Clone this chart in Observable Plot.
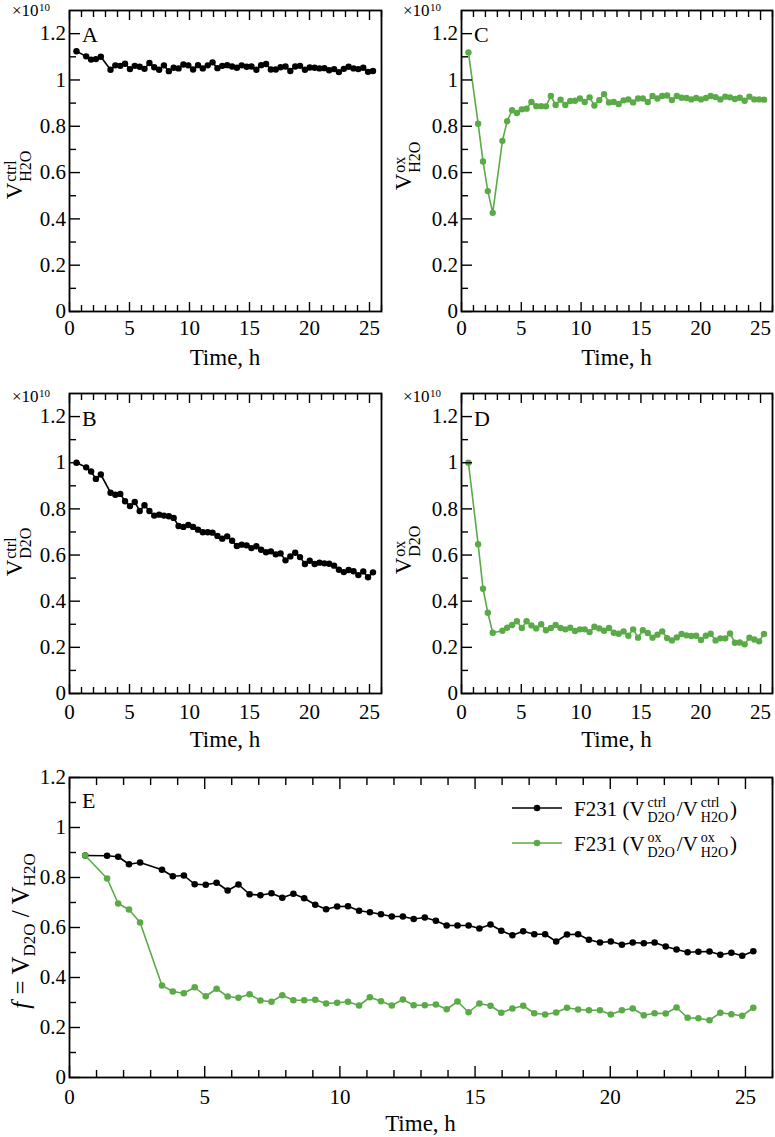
<!DOCTYPE html>
<html><head><meta charset="utf-8">
<script src="https://cdn.jsdelivr.net/npm/d3@7"></script>
<script src="https://cdn.jsdelivr.net/npm/@observablehq/plot@0.6"></script>
<style>
html,body{margin:0;padding:0;background:#fff;}
#root{position:relative;width:775px;height:1137px;overflow:hidden;background:#fff;}
#root svg{position:absolute;overflow:visible;font-family:"Liberation Serif","DejaVu Serif",serif !important;}
#root svg text{font-family:"Liberation Serif","DejaVu Serif",serif !important;}
</style></head><body><div id="root"></div>
<script>
// ---- data ----
const time = [0.58,1.39,1.80,2.20,2.61,3.42,3.82,4.23,4.63,5.04,5.44,5.85,6.25,6.66,7.06,7.47,7.87,8.28,8.68,9.09,
  9.49,9.90,10.30,10.71,11.11,11.52,11.92,12.33,12.73,13.14,13.55,13.95,14.35,14.76,15.16,15.57,15.97,16.38,16.78,17.19,
  17.59,18.00,18.40,18.81,19.21,19.62,20.02,20.43,20.83,21.24,21.64,22.05,22.45,22.86,23.26,23.67,24.07,24.48,24.88,25.29];

// panel A: V_H2O ctrl (x1e10)
const vH2Octrl = [1.124,1.102,1.088,1.090,1.100,1.044,1.063,1.061,1.070,1.047,
  1.061,1.057,1.048,1.073,1.055,1.044,1.063,1.038,1.053,1.050,
  1.067,1.063,1.045,1.064,1.050,1.063,1.076,1.051,1.061,1.064,
  1.058,1.053,1.063,1.057,1.058,1.044,1.064,1.069,1.045,1.045,
  1.055,1.058,1.039,1.058,1.061,1.044,1.054,1.053,1.050,1.051,
  1.042,1.047,1.034,1.048,1.057,1.050,1.047,1.053,1.035,1.039];
// panel B: V_D2O ctrl
const vD2Octrl = [1.000,0.980,0.962,0.930,0.949,0.870,0.861,0.865,0.833,0.812,
  0.830,0.791,0.816,0.791,0.771,0.775,0.771,0.768,0.761,0.726,
  0.722,0.730,0.722,0.710,0.699,0.699,0.697,0.683,0.671,0.681,
  0.662,0.639,0.645,0.642,0.630,0.638,0.623,0.612,0.616,0.603,
  0.607,0.577,0.594,0.610,0.591,0.561,0.575,0.561,0.567,0.564,
  0.562,0.554,0.536,0.526,0.535,0.530,0.513,0.529,0.504,0.525];
// panel C: V_H2O ox
const vH2Oox = [1.119,0.811,0.648,0.520,0.426,0.737,0.822,0.869,0.857,0.873,
  0.876,0.905,0.887,0.887,0.886,0.931,0.892,0.915,0.892,0.909,
  0.910,0.920,0.905,0.925,0.890,0.913,0.939,0.903,0.905,0.896,
  0.912,0.916,0.903,0.920,0.920,0.905,0.931,0.920,0.931,0.933,
  0.913,0.931,0.923,0.922,0.916,0.922,0.916,0.922,0.931,0.926,
  0.916,0.928,0.925,0.918,0.923,0.910,0.928,0.916,0.916,0.915];
// panel D: V_D2O ox
const vD2Oox = [1.000,0.647,0.454,0.350,0.263,0.272,0.285,0.297,0.313,0.284,
  0.313,0.295,0.282,0.300,0.274,0.284,0.297,0.284,0.278,0.285,
  0.271,0.278,0.278,0.266,0.289,0.282,0.272,0.284,0.263,0.259,
  0.269,0.250,0.278,0.242,0.274,0.262,0.242,0.255,0.269,0.240,
  0.230,0.243,0.258,0.252,0.249,0.250,0.232,0.250,0.259,0.230,
  0.239,0.239,0.260,0.220,0.221,0.213,0.242,0.234,0.226,0.258];
// panel E: f ratios
const fCtrl = [0.888,0.887,0.883,0.853,0.860,0.831,0.805,0.808,0.773,0.771,
  0.779,0.748,0.772,0.733,0.729,0.737,0.719,0.735,0.717,0.691,
  0.673,0.684,0.685,0.667,0.661,0.653,0.644,0.644,0.634,0.640,
  0.627,0.608,0.608,0.608,0.596,0.612,0.587,0.569,0.585,0.573,
  0.573,0.544,0.572,0.573,0.551,0.540,0.544,0.531,0.540,0.537,
  0.540,0.524,0.512,0.501,0.503,0.504,0.491,0.499,0.487,0.505];
const fOx = [0.888,0.796,0.696,0.672,0.620,0.368,0.344,0.337,0.361,0.325,
  0.355,0.324,0.319,0.333,0.308,0.303,0.329,0.309,0.309,0.311,
  0.296,0.299,0.303,0.288,0.321,0.305,0.288,0.312,0.289,0.289,
  0.292,0.273,0.304,0.261,0.296,0.287,0.259,0.276,0.287,0.257,
  0.252,0.260,0.279,0.272,0.269,0.269,0.252,0.269,0.276,0.249,
  0.257,0.256,0.280,0.239,0.237,0.229,0.259,0.253,0.247,0.279];

// ---- ticks ----
const xMajor = [0,5,10,15,20,25];
const xTickLabels = ["0","5","10","15","20","25"];
const yMajor = [0,0.2,0.4,0.6,0.8,1,1.2];
const yTickLabels = ["0","0.2","0.4","0.6","0.8","1","1.2"];
const yMinor = [0.1,0.3,0.5,0.7,0.9,1.1];
const xMinor = d3.range(1,27).filter(d => d % 5 !== 0);

const FONT = "Liberation Serif, DejaVu Serif, serif";
const BLACK = "#000000", GREEN = "#5aab47";

function series(vals){ return time.map((t,i) => ({t, v: vals[i]})); }

// tx: [major length, minor length, label gap]; ty: [major, minor]
function axes(tx, ty) {
  return [
    Plot.axisX(xMinor, {anchor: "bottom", tickSize: -tx[1], strokeWidth: 1.4, fill: "none", label: null}),
    Plot.axisX(xMinor, {anchor: "top", tickSize: -tx[1], strokeWidth: 1.4, fill: "none", label: null}),
    Plot.axisX(xMajor, {anchor: "top", tickSize: -tx[0], strokeWidth: 1.4, fill: "none", label: null}),
    Plot.axisX(xMajor, {anchor: "bottom", tickSize: -tx[0], strokeWidth: 1.4, tickPadding: tx[2] + tx[0],
      tickFormat: d => xTickLabels[xMajor.indexOf(d)], label: null}),
    Plot.axisY(yMinor, {anchor: "left", tickSize: -ty[1], strokeWidth: 1.4, fill: "none", label: null}),
    Plot.axisY(yMajor, {anchor: "left", tickSize: -ty[0], strokeWidth: 1.4, tickPadding: 3.5 + ty[0],
      tickFormat: d => yTickLabels[yMajor.indexOf(d)], label: null}),
    Plot.frame({stroke: "#000", strokeWidth: 1.8})
  ];
}

const plotStyle = {fontFamily: FONT, fontSize: "21px", color: "#000", background: "transparent", overflow: "visible"};

function panel({vals, color, yMax, width, height, ml, mr, mt, mb, gap}) {
  const data = series(vals);
  return Plot.plot({
    width, height, marginLeft: ml, marginRight: mr, marginTop: mt, marginBottom: mb,
    x: {domain: [0, 26]},
    y: {domain: [0, yMax]},
    style: plotStyle,
    marks: [
      Plot.line(data, {x: "t", y: "v", stroke: color, strokeWidth: 1.6}),
      Plot.dot(data, {x: "t", y: "v", fill: color, r: 3.2}),
      ...axes([9, 6, gap], [11, 7])
    ]
  });
}

const root = document.getElementById("root");
function place(svg, left, top) {
  svg.style.left = left + "px"; svg.style.top = top + "px";
  svg.style.fontFamily = FONT;
  root.appendChild(svg);
  return d3.select(svg);
}

const sA = place(panel({vals: vH2Octrl, color: BLACK, yMax: 1.3, width: 388, height: 370, ml: 69, mr: 7, mt: 10, mb: 59, gap: 9}), 0, 0);
const sC = place(panel({vals: vH2Oox, color: GREEN, yMax: 1.3, width: 387, height: 370, ml: 73, mr: 3, mt: 10, mb: 59, gap: 9}), 388, 0);
const sB = place(panel({vals: vD2Octrl, color: BLACK, yMax: 1.3, width: 388, height: 370, ml: 69, mr: 7, mt: 10, mb: 60, gap: 11}), 0, 383);
const sD = place(panel({vals: vD2Oox, color: GREEN, yMax: 1.3, width: 387, height: 370, ml: 73, mr: 3, mt: 10, mb: 60, gap: 11}), 388, 383);
const sE = place((() => {
  const d1 = series(fCtrl), d2 = series(fOx);
  return Plot.plot({
    width: 775, height: 370, marginLeft: 69, marginRight: 3, marginTop: 10, marginBottom: 60,
    x: {domain: [0, 26]}, y: {domain: [0, 1.2]},
    style: plotStyle,
    marks: [
      Plot.line(d1, {x: "t", y: "v", stroke: BLACK, strokeWidth: 1.6}),
      Plot.dot(d1, {x: "t", y: "v", fill: BLACK, r: 3.3}),
      Plot.line(d2, {x: "t", y: "v", stroke: GREEN, strokeWidth: 1.6}),
      Plot.dot(d2, {x: "t", y: "v", fill: GREEN, r: 3.3}),
      ...axes([11, 7, 11.5], [11, 7])
    ]
  });
})(), 0, 767);

// ---- rich text helper (stacked super/subscripts) ----
function rich(parent, parts) {
  const g = parent.append("g").attr("font-family", FONT).attr("fill", "#000").attr("text-anchor", "start");
  let cx = 0;
  for (const p of parts) {
    if (p.t != null) {
      const el = g.append("text").attr("x", cx).attr("y", 0).attr("font-size", p.size)
        .attr("text-anchor", "start").attr("font-style", p.italic ? "italic" : null).text(p.t);
      cx += el.node().getComputedTextLength() + (p.gap || 0);
    } else {
      cx += p.pre || 0;
      let w = 0;
      if (p.sup) { const el = g.append("text").attr("x", cx).attr("y", p.supDy).attr("font-size", p.size).attr("text-anchor", "start").text(p.sup); w = Math.max(w, el.node().getComputedTextLength()); }
      if (p.sub) { const el = g.append("text").attr("x", cx).attr("y", p.subDy).attr("font-size", p.size).attr("text-anchor", "start").text(p.sub); w = Math.max(w, el.node().getComputedTextLength()); }
      cx += w + (p.gap || 0);
    }
  }
  return {g, width: cx};
}
function textAt(svg, x, y, parts, anchor = "start") {
  const {g, width} = rich(svg, parts);
  const off = anchor === "middle" ? -width / 2 : anchor === "end" ? -width : 0;
  g.attr("transform", `translate(${x + off},${y})`);
}
function textUp(svg, x, cy, parts) {
  const outer = svg.append("g").attr("transform", `translate(${x},${cy}) rotate(-90)`);
  const {g, width} = rich(outer, parts);
  g.attr("transform", `translate(${-width / 2},0)`);
}

const mult = [{t: "\u00d710", size: 17}, {sup: "10", size: 11, supDy: -5.5, pre: 0.5}];
const timeLbl = [{t: "Time, h", size: 23}];
const yLab = (sup, sub) => [{t: "V", size: 23}, {sup, sub, size: 16, supDy: -6, subDy: 9, pre: 1}];

// Panel A
textAt(sA, 12, 16, mult);
textAt(sA, 82, 42, [{t: "A", size: 22}]);
textAt(sA, 225, 365, timeLbl, "middle");
textUp(sA, 21.5, 175, yLab("ctrl", "H2O"));
// Panel C
textAt(sC, 15, 16, mult);
textAt(sC, 86, 42, [{t: "C", size: 22}]);
textAt(sC, 228.5, 365, timeLbl, "middle");
textUp(sC, 22.5, 166, yLab("ox", "H2O"));
// Panel B
textAt(sB, 12, 19, mult);
textAt(sB, 82, 43, [{t: "B", size: 22}]);
textAt(sB, 225, 364, timeLbl, "middle");
textUp(sB, 21.5, 169, yLab("ctrl", "D2O"));
// Panel D
textAt(sD, 15, 19, mult);
textAt(sD, 86, 43, [{t: "D", size: 22}]);
textAt(sD, 228.5, 364, timeLbl, "middle");
textUp(sD, 22.5, 167, yLab("ox", "D2O"));
// Panel E
textAt(sE, 82, 41, [{t: "E", size: 22}]);
textAt(sE, 420.5, 364, timeLbl, "middle");
textUp(sE, 29, 164, [
  {t: "f", size: 25, italic: true, gap: 1},
  {t: "\u00a0= V", size: 25},
  {sub: "D2O", size: 17, subDy: 6},
  {t: "\u00a0/ V", size: 25},
  {sub: "H2O", size: 17, subDy: 6}
]);
// legend
const legendRows = [
  {color: BLACK, sup: "ctrl", ly: 41, ty: 49},
  {color: GREEN, sup: "ox", ly: 76, ty: 84}
];
for (const r of legendRows) {
  sE.append("line").attr("x1", 512).attr("x2", 562).attr("y1", r.ly).attr("y2", r.ly)
    .attr("stroke", r.color).attr("stroke-width", 1.6);
  sE.append("circle").attr("cx", 537).attr("cy", r.ly).attr("r", 3.3).attr("fill", r.color);
  textAt(sE, 574, r.ty, [
    {t: "F231 (V", size: 21},
    {sup: r.sup, sub: "D2O", size: 14, supDy: -9, subDy: 6, pre: 3, gap: 2},
    {t: "/V", size: 21},
    {sup: r.sup, sub: "H2O", size: 14, supDy: -9, subDy: 6, pre: 3, gap: 2},
    {t: ")", size: 21}
  ]);
}
</script></body></html>
